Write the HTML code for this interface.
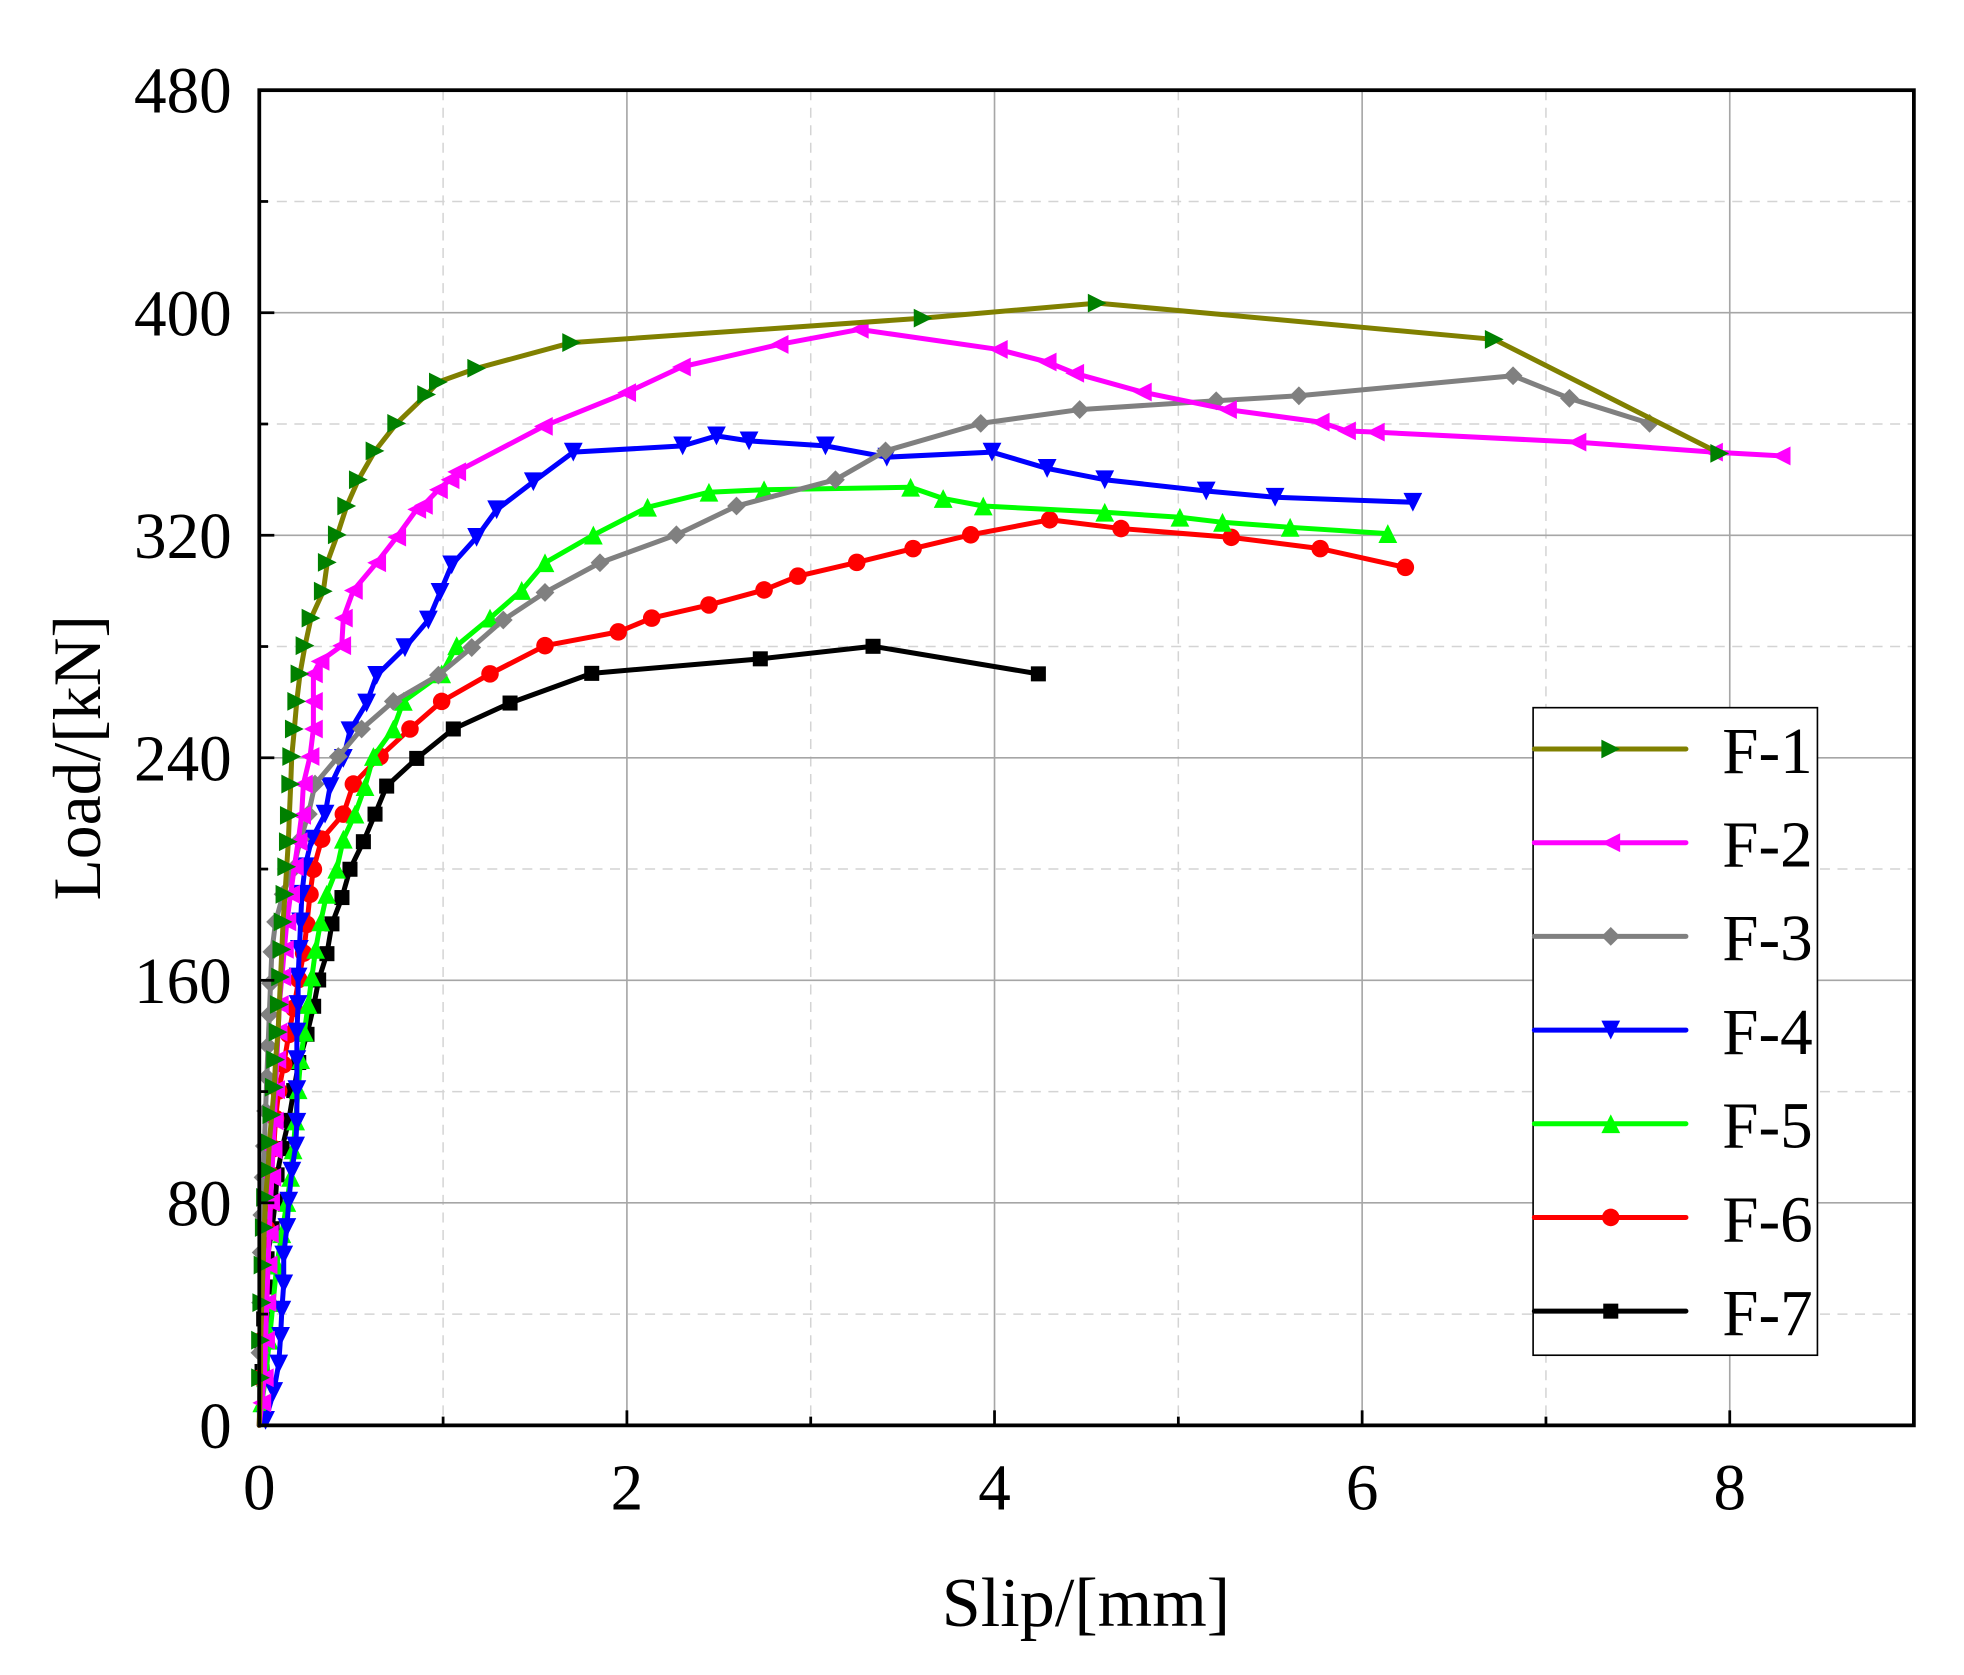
<!DOCTYPE html>
<html><head><meta charset="utf-8"><style>
html,body{margin:0;padding:0;background:#fff;}
svg{display:block;}
text{font-family:"Liberation Serif",serif;fill:#000;}
</style></head><body>
<svg id="c" width="1964" height="1675" viewBox="0 0 1568 1337.3" xmlns="http://www.w3.org/2000/svg">
<rect x="0" y="0" width="1568" height="1337.3" fill="#fff"/>
<g id="grid"></g>
<g id="series"></g>
<g id="axes"></g>
<g id="legend"></g>
<text x="867" y="1298" font-size="56" text-anchor="middle">Slip/[mm]</text>
<text transform="translate(80,605) rotate(-90)" font-size="54" text-anchor="middle">Load/[kN]</text>
</svg>
<script>
var NS="http://www.w3.org/2000/svg";
function el(p,t,a){var e=document.createElementNS(NS,t);for(var k in a)e.setAttribute(k,a[k]);p.appendChild(e);return e;}
var L=207,R=1528,T=72,B=1138,PX=146.75,PY=2.2208;
var g=document.getElementById('grid'),ax=document.getElementById('axes');
for(var i=1;i<=8;i++){var x=L+i*PX;
 if(i%2==0) el(g,'line',{x1:x,y1:T,x2:x,y2:B,stroke:'#a6a6a6','stroke-width':1.3});
 else el(g,'line',{x1:x,y1:T,x2:x,y2:B,stroke:'#d4d4d4','stroke-width':1.2,'stroke-dasharray':'8,6'});}
for(var v=40;v<480;v+=40){var y=B-v*PY;
 if(v%80==0) el(g,'line',{x1:L,y1:y,x2:R,y2:y,stroke:'#a6a6a6','stroke-width':1.3});
 else el(g,'line',{x1:L,y1:y,x2:R,y2:y,stroke:'#d4d4d4','stroke-width':1.2,'stroke-dasharray':'8,6'});}
for(var i=0;i<=9;i++){var x=L+i*PX;var len=(i%2==0)?12:7;
 el(ax,'line',{x1:x,y1:B,x2:x,y2:B-len,stroke:'#000','stroke-width':2.2});
 if(i%2==0&&i<9){var t=el(ax,'text',{x:x,y:1205,'font-size':52,'text-anchor':'middle'});t.textContent=i;}}
for(var v=0;v<=480;v+=40){var y=B-v*PY;var len=(v%80==0)?12:7;
 el(ax,'line',{x1:L,y1:y,x2:L+len,y2:y,stroke:'#000','stroke-width':2.2});
 if(v%80==0){var t=el(ax,'text',{x:185,y:y+18,'font-size':52,'text-anchor':'end'});t.textContent=v;}}
el(ax,'rect',{x:L,y:T,width:R-L,height:B-T,fill:'none',stroke:'#000','stroke-width':3});

function mk(p,type,x,y,c){
 var s=7.5;
 if(type=='r') el(p,'polygon',{points:(x-s)+','+(y-s)+' '+(x+s)+','+y+' '+(x-s)+','+(y+s),fill:c});
 else if(type=='l') el(p,'polygon',{points:(x+s)+','+(y-s)+' '+(x-s)+','+y+' '+(x+s)+','+(y+s),fill:c});
 else if(type=='d') el(p,'polygon',{points:x+','+(y-s)+' '+(x+s)+','+y+' '+x+','+(y+s)+' '+(x-s)+','+y,fill:c});
 else if(type=='v') el(p,'polygon',{points:(x-s)+','+(y-s)+' '+(x+s)+','+(y-s)+' '+x+','+(y+s),fill:c});
 else if(type=='u') el(p,'polygon',{points:(x-s)+','+(y+s)+' '+(x+s)+','+(y+s)+' '+x+','+(y-s),fill:c});
 else if(type=='o') el(p,'circle',{cx:x,cy:y,r:7,fill:c});
 else if(type=='s') el(p,'rect',{x:x-6,y:y-6,width:12,height:12,fill:c});
}
function P(s){return s.trim().split(/\s+/).map(function(q){return q.split(',').map(Number);});}
var S=[
{n:'F-1',lc:'#808000',mc:'#008000',m:'r',d:P("207,1138 208,1100 208,1070 209,1040 210,1010 211,980 212,956 214,934 215,912 217,890 219,868 220,846 222,824 223,802 224,780 225,758 226,736 227.5,714 228.9,692 230.2,672 231,651 232.1,626 232.9,604 235,582 236.9,560 239.5,538 243.5,515.5 248.3,493.5 258.1,472 261.3,449 269.3,427 276.8,404 286.1,383 299.4,360 316.7,338 340.6,315 350,305 380.6,294 456.4,273.5 737,254 876,242 1193,271 1373,362")},
{n:'F-2',lc:'#ff00ff',mc:'#ff00ff',m:'l',d:P("207,1138 209,1120 211,1100 212,1070 213,1040 214,1010 215,985 216,960 217,940 218,918 219,895 220,870 221,846 222,824 223,802 225,780 227,758 229,736 232,714 235,692 238,672 240.8,651 242.2,626 247.5,604 250.2,582 250.2,560 250.2,538 255.5,528 272.8,515.5 274.1,493.5 282.1,471.4 300.7,449.3 316.7,428.8 332.7,406.7 338,403.5 350,391 359.3,383 364.6,376.7 433.8,340.4 500.3,313.5 544,293 622,275 686,263 797,279 836,289 858,298 912,313 980,327 1054,337 1075,344 1098,345 1259,353 1368,361 1422,364")},
{n:'F-3',lc:'#808080',mc:'#808080',m:'d',d:P("207,1138 207.5,1080 208,1040 208.5,1000 209,970 210,940 211,915 212,887 213,860 214,835 215,810 216,785 217,760 220,736 226,714 234,694 240,670 246.2,650 251.5,626 270.1,604 288.7,582 314,560 350,539 376.6,517 401.8,495 435.1,473 479,449.3 540,427 588,404 667,383 707,360 783,338 862,327 971,320 1037,316 1208,300 1253,318 1317,338")},
{n:'F-4',lc:'#0000ff',mc:'#0000ff',m:'v',d:P("207,1138 212,1134 218.5,1111 222.5,1089 224,1067 225,1046 226.5,1025 226.5,1002 229,980 230.5,959 233,935 236,915 237,896 237,870 237,846 237,824 238,802 238,780 239,758 240,736 241,714 243.5,692 248.8,670 259.5,650 263.5,628 274.1,605.5 279.4,583.4 292.7,561.3 300.7,539.2 323.3,517.1 342,495 351.3,473 360.6,451 380.5,429 396.5,407 425.8,384.6 457.7,361 545,356 572,348 598,352 659,356 708,365 792,361 836,374 882,383 963,392 1018,397 1128,401")},
{n:'F-5',lc:'#00ff00',mc:'#00ff00',m:'u',d:P("207,1138 209,1120 212,1100 215,1070 218,1040 221,1010 225,985 229,960 232,940 234,918 236,895 238,870 240,846 243,824 246,802 249,780 252,758 256,736 260.8,714 268.8,694 274.1,670 283.4,650 291.4,628 298.1,604 314,582 322,560 352.6,538 364.6,515.5 391.2,493.5 416.5,471.4 435.1,449.3 473.7,427.2 517,405 566,393 610,391 727,389 753,398 785,404 882,409 942,413 976,417 1030,421 1108,426")},
{n:'F-6',lc:'#ff0000',mc:'#ff0000',m:'o',d:P("207,1138 208,1100 209,1070 210,1040 211,1010 213,981 214,960 216,938 218.5,917 220,893 222.5,871 226.5,850 230.5,826 234.5,805 238.5,782 242.4,761 245,738 247.5,714 250.2,694 256.8,670 274.1,650 282.1,626 303.4,604 327.3,582 352.6,560 391.2,538 435.1,515.5 493.6,504.5 520.3,493.5 566,483 610,471 637,460 684,449 729,438 775,427 838,415 895,422 983,429 1054,438 1122,453")},
{n:'F-7',lc:'#000000',mc:'#000000',m:'s',d:P("207,1138 209.2,1095 209.2,1075 210.5,1053 211.8,1027.5 213.2,1005 217.2,981 219.8,959 221.2,938 225.2,917 230.5,894.5 234.5,870.7 238.5,848.3 245.1,825.8 250.4,803.4 254.4,782.4 261,761.4 265,737.6 273,716.6 279.4,694 290.1,672 299.4,650 308.7,627.6 332.7,605.5 361.9,582 407.2,561.3 472.4,537.6 607,526 697,516 829,538")}
];
var sg=document.getElementById('series');
S.slice().reverse().forEach(function(s){
 var gg=el(sg,'g',{});
 el(gg,'polyline',{points:s.d.map(function(p){return p.join(',');}).join(' '),fill:'none',stroke:s.lc,'stroke-width':4,'stroke-linejoin':'round','stroke-linecap':'round'});
 s.d.forEach(function(p,i){if(i>0)mk(gg,s.m,p[0],p[1],s.mc);});
});
var lg=document.getElementById('legend');
el(lg,'rect',{x:1224,y:565,width:227,height:517,fill:'#fff',stroke:'#000','stroke-width':1.3});
S.forEach(function(s,i){var y=598+i*74.8;
 el(lg,'line',{x1:1225,y1:y,x2:1346,y2:y,stroke:s.lc,'stroke-width':4,'stroke-linecap':'round'});
 mk(lg,s.m,1286,y,s.mc);
 var t=el(lg,'text',{x:1375,y:y+19,'font-size':52});t.textContent=s.n;});
</script>
</body></html>
